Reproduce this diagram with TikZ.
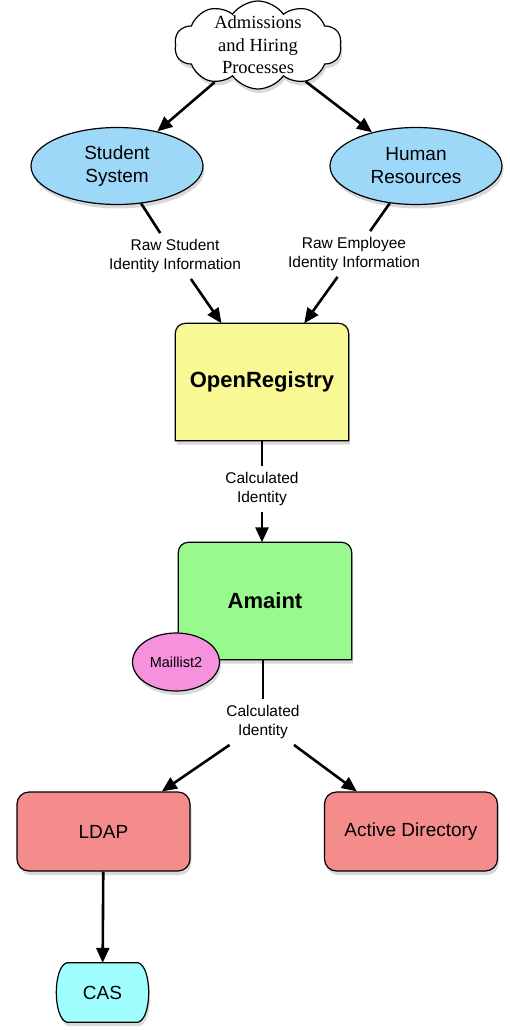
\documentclass[tikz,border=0pt]{standalone}
\usepackage{fontspec}
\setmainfont{Liberation Sans}
\newfontfamily\cloudfont{Liberation Serif}
\usetikzlibrary{shapes.geometric,shapes.symbols,shadows,arrows.meta,backgrounds}
\definecolor{sysblue}{HTML}{9ED8F9}
\definecolor{regyellow}{HTML}{F8F894}
\definecolor{amgreen}{HTML}{98F98C}
\definecolor{mailpink}{HTML}{F591DD}
\definecolor{storered}{HTML}{F48C8C}
\definecolor{cascyan}{HTML}{A0FEFE}

\begin{document}
\begin{tikzpicture}[x=1pt,y=-1pt,
  soft/.style={drop shadow={opacity=.3,shadow xshift=1.5pt,shadow yshift=-4pt}},
  boxline/.style={draw,line width=1.2pt,soft},
  sys/.style={ellipse,boxline,fill=sysblue,minimum width=172pt,minimum height=77pt,
    align=center,font=\fontsize{19}{23}\selectfont},
  flow/.style={align=center,inner sep=6pt,font=\fontsize{15.5}{19}\selectfont},
  core/.style={minimum width=173pt,minimum height=117pt,font=\bfseries\fontsize{22}{26}\selectfont},
  store/.style={boxline,rounded corners=12pt,fill=storered,minimum width=173pt,
    minimum height=79pt,font=\fontsize{19}{23}\selectfont},
  link/.style={line width=2.6pt},
  arr/.style={link,-{Triangle[length=15pt,width=13pt]}}]
\useasboundingbox (0,0) rectangle (510,1030);

\node[cloud,cloud puffs=10,cloud puff arc=110,cloud ignores aspect,boxline,fill=white,
  inner sep=-25pt,minimum width=167pt,minimum height=88pt,align=center,
  font=\cloudfont\fontsize{18.5}{22.5}\selectfont] (proc) at (258,45)
  {Admissions\\and Hiring\\Processes};
\node[sys] (stud) at (117,166) {Student\\System};
\node[sys] (hr) at (416,166) {Human\\Resources};
\node[flow] (rawS) at (175,256) {Raw Student\\Identity Information};
\node[flow] (rawE) at (354,254) {Raw Employee\\Identity Information};
\node[core] (reg) at (262,382) {OpenRegistry};
\node[flow] (calcA) at (262,489) {Calculated\\Identity};
\node[core] (amaint) at (265,601) {Amaint};
\node[ellipse,boxline,fill=mailpink,minimum width=87pt,minimum height=58pt,
  font=\fontsize{14.5}{17}\selectfont] (mail) at (176,662) {Maillist2};
\node[flow] (calcB) at (263,722) {Calculated\\Identity};
\node[store] (ldap) at (103.5,831.5) {LDAP};
\node[store] (ad) at (411,831.5) {Active Directory};
\node[minimum width=91pt,minimum height=59pt,font=\fontsize{19}{23}\selectfont]
  (cas) at (102.5,992.5) {CAS};

\begin{scope}[on background layer]
  \foreach \b/\c in {reg/regyellow,amaint/amgreen}
    \path[boxline,fill=\c] (\b.south west) -- ([yshift=-10pt]\b.north west)
      arc[start angle=180,end angle=90,radius=10pt] -- ([xshift=-10pt]\b.north east)
      arc[start angle=90,end angle=0,radius=10pt] -- (\b.south east) -- cycle;
  \path[boxline,fill=cascyan] ([xshift=10pt]cas.north west) -- ([xshift=-10pt]cas.north east)
    .. controls +(14pt,-4pt) and +(14pt,4pt) .. ([xshift=-10pt]cas.south east)
    -- ([xshift=10pt]cas.south west)
    .. controls +(-14pt,4pt) and +(-14pt,-4pt) .. ([xshift=10pt]cas.north west) -- cycle;
\end{scope}

\draw[arr] (proc) -- (stud);
\draw[arr] (proc) -- (hr);
\draw[link] (stud) -- (rawS);
\draw[arr] (rawS) -- (reg);
\draw[link] (hr) -- (rawE);
\draw[arr] (rawE) -- (reg);
\draw[link] (reg) -- (calcA);
\draw[arr] (calcA) -- (calcA |- amaint.north);
\draw[link] (calcB |- amaint.south) -- (calcB);
\draw[arr] (calcB) -- (ldap);
\draw[arr] (calcB) -- (ad);
\draw[arr] (ldap) -- (cas);
\end{tikzpicture}
\end{document}
